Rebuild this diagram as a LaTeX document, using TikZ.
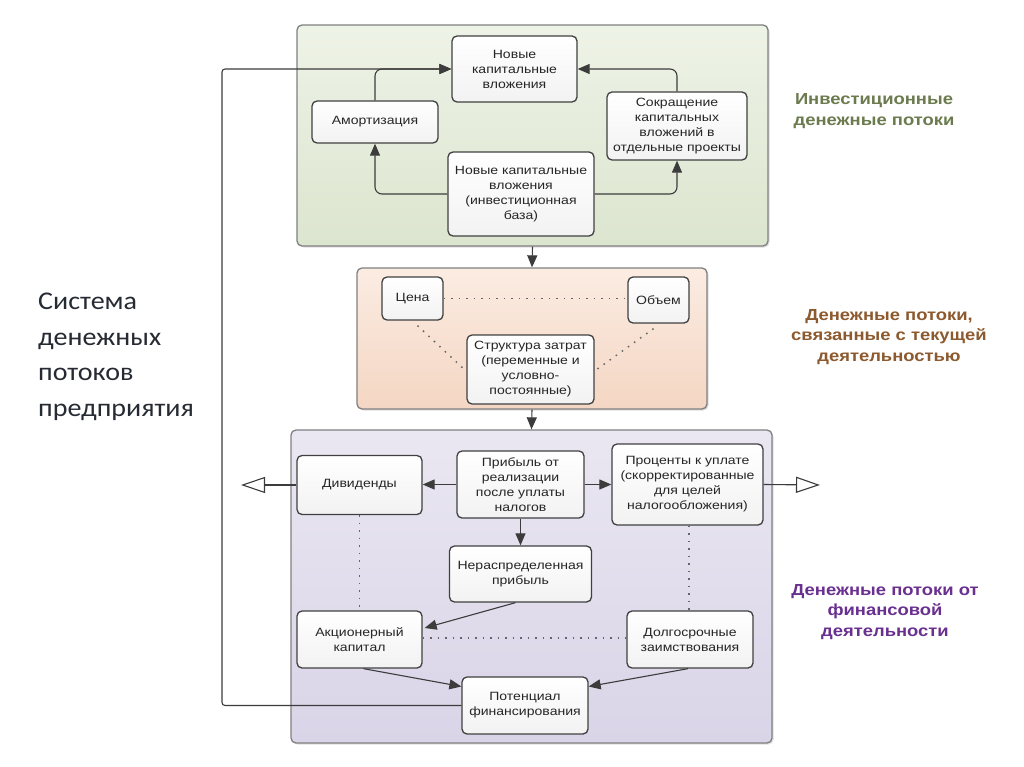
\documentclass[tikz,border=0pt]{standalone}
\usepackage{fontspec}
\setmainfont{Liberation Sans}
\newfontfamily\boxfont{Liberation Sans}[FakeStretch=1.17]
\newfontfamily\sidefont{Liberation Sans}[FakeStretch=1.15]
\newfontfamily\calib{Carlito}[FakeStretch=1.1]
\usetikzlibrary{arrows.meta,shadows}
\definecolor{gtop}{HTML}{EEF3E7}
\definecolor{gbot}{HTML}{DCE5CF}
\definecolor{ptop}{HTML}{FBECE2}
\definecolor{pbot}{HTML}{F4D6C3}
\definecolor{vtop}{HTML}{EAE7F2}
\definecolor{vbot}{HTML}{D9D4E7}
\definecolor{gtxt}{HTML}{6B7B4E}
\definecolor{btxt}{HTML}{8C5A2E}
\definecolor{vtxt}{HTML}{6A3090}
\definecolor{ltxt}{HTML}{262A33}
\definecolor{lin}{HTML}{3C3C3C}
\begin{document}
\begin{tikzpicture}[x=1pt,y=-1pt,
  panel/.style={draw=black!50, line width=1.3pt, rounded corners=5pt,
    drop shadow={opacity=0.25, shadow xshift=1.5pt, shadow yshift=-1.5pt}},
  box/.style={draw=black!75, line width=1.3pt, rounded corners=5pt,
    top color=white, bottom color=black!5, align=center, text=black!85,
    font=\boxfont\fontsize{12}{15}\selectfont, inner sep=2pt},
  conn/.style={draw=lin, line width=1.1pt, -{Triangle[length=12pt,width=10pt]}},
  plain/.style={draw=lin, line width=1.1pt},
  dotl/.style={draw=black!60, line width=1.5pt, dash pattern=on 1.5pt off 6pt},
  side/.style={font=\sidefont\bfseries\fontsize{16}{20.5}\selectfont, align=center}]
\useasboundingbox (0,0) rectangle (1024,767);
\fill[white] (0,0) rectangle (1024,767);

% panels
\node[panel, top color=gtop, bottom color=gbot, minimum width=471, minimum height=221] (P1) at (532.5,135.5) {};
\node[panel, top color=ptop, bottom color=pbot, minimum width=350, minimum height=141] (P2) at (532,338.5) {};
\node[panel, top color=vtop, bottom color=vbot, minimum width=481, minimum height=313] (P3) at (531.5,586.5) {};

% investment boxes
\node[box, minimum width=125, minimum height=66] (N1) at (514.5,69) {Новые\\капитальные\\вложения};
\node[box, minimum width=126, minimum height=42] (AM) at (375,122) {Амортизация};
\node[box, minimum width=140, minimum height=68] (SK) at (677,126) {Сокращение\\капитальных\\вложений в\\отдельные проекты};
\node[box, minimum width=146, minimum height=84] (NB) at (521,194) {Новые капитальные\\вложения\\(инвестиционная\\база)};

% operating boxes
\node[box, minimum width=61, minimum height=43] (CE) at (412.5,298.5) {Цена};
\node[box, minimum width=61, minimum height=46] (OB) at (658.5,300) {Объем};
\node[box, minimum width=127, minimum height=69] (ST) at (530.5,369.5) {Структура затрат\\(переменные и\\условно-\\постоянные)};

% financing boxes
\node[box, minimum width=125, minimum height=59] (DV) at (359.5,485) {Дивиденды};
\node[box, minimum width=127, minimum height=67] (PR) at (520.5,484.5) {Прибыль от\\реализации\\после уплаты\\налогов};
\node[box, minimum width=151, minimum height=81] (PC) at (687.5,484.5) {Проценты к уплате\\(скорректированные\\для целей\\налогообложения)};
\node[box, minimum width=142, minimum height=56] (NR) at (520.5,574) {Нераспределенная\\прибыль};
\node[box, minimum width=125, minimum height=57] (AK) at (359.5,639.5) {Акционерный\\капитал};
\node[box, minimum width=126, minimum height=57] (DL) at (690,639.5) {Долгосрочные\\заимствования};
\node[box, minimum width=126, minimum height=57] (PT) at (525,705.5) {Потенциал\\финансирования};

% coordinates
\coordinate (LB) at (222,705.5);
\coordinate (LT) at (222,69);
\coordinate (OL) at (241,485);
\coordinate (OR) at (820,485);

% investment connectors
\draw[conn, rounded corners=3pt] (PT.west) -- (LB) -- (LT) -- (N1.west);
\draw[conn, rounded corners=7pt] (AM.north) |- (N1.west);
\draw[conn, rounded corners=7pt] (SK.north) |- (N1.east);
\draw[conn, rounded corners=7pt] (NB.west) -| (AM.south);
\draw[conn, rounded corners=7pt] (NB.east) -| (SK.south);
\draw[conn] (P1.south) -- (P2.north);
\draw[conn] (P2.south) -- (P3.north);

% operating dotted
\draw[dotl] (CE.east) -- (CE.east -| OB.west);
\draw[dotl] ([shift={(5,5)}]CE.south) -- ([xshift=-2pt]ST.west);
\draw[dotl] ([shift={(-5,5)}]OB.south) -- ([xshift=2pt]ST.east);

% financing connectors
\draw[conn] (PR.west) -- (PR.west -| DV.east);
\draw[conn] (PR.east) -- (PR.east -| PC.west);
\draw[conn] (PR.south) -- (NR.north);
\draw[conn] ([xshift=-5pt]NR.south) -- ([shift={(2,-11.5)}]AK.east);
\draw[conn] ([xshift=4pt]AK.south) -- ([shift={(0,-19)}]PT.west);
\draw[conn] ([xshift=-2pt]DL.south) -- ([shift={(0,-19)}]PT.east);
\draw[plain, -{Triangle[length=24pt,width=16pt,fill=white]}] (DV.west) -- (OL);
\draw[plain, -{Triangle[length=24pt,width=16pt,fill=white]}] (PC.east) -- (OR);
\draw[dotl] (DV.south) -- (AK.north);
\draw[dotl] ([xshift=1.5pt]PC.south) -- ([xshift=1.5pt]PC.south |- DL.north);
\draw[dotl] ([shift={(0,-1.5)}]AK.east) -- ([shift={(0,-1.5)}]AK.east -| DL.west);

% side texts
\node[anchor=west, align=left, inner sep=0pt, text=ltxt,
  font=\calib\fontsize{25.5}{35.5}\selectfont] (SYS) at (38,357) {Система\\денежных\\потоков\\предприятия};
\node[side, text=gtxt] (LG) at (874,111) {Инвестиционные\\денежные потоки};
\node[side, text=btxt] (LBR) at (889,337) {Денежные потоки,\\связанные с текущей\\деятельностью};
\node[side, text=vtxt] (LV) at (885,612) {Денежные потоки от\\финансовой\\деятельности};
\end{tikzpicture}
\end{document}
